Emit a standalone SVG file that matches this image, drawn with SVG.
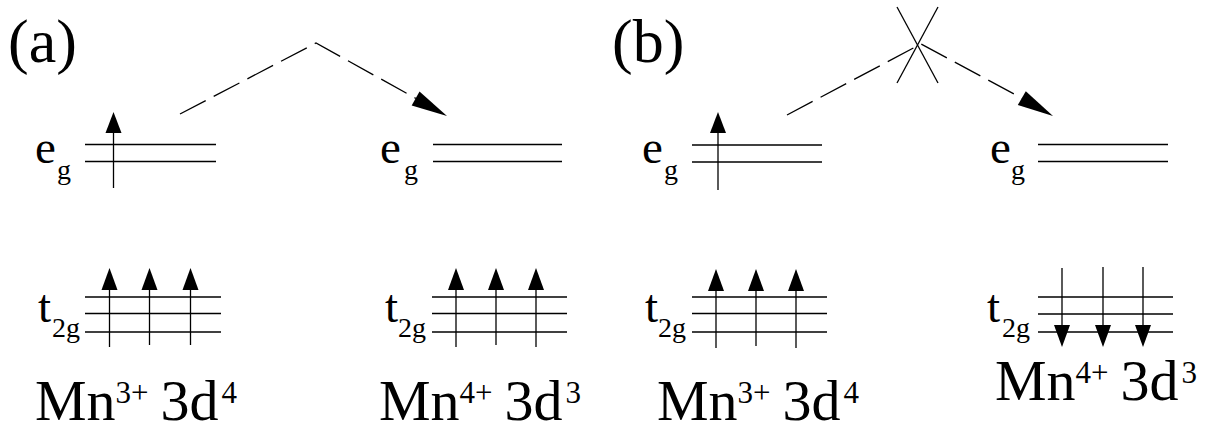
<svg xmlns="http://www.w3.org/2000/svg" width="1209" height="427" viewBox="0 0 1209 427">
<style>
text{font-family:'Liberation Serif','Times New Roman',serif;fill:#000}
.big{font-size:62px}
.lab{font-size:47px}
.sub{font-size:28px}
.mn{font-size:58px}
.sup{font-size:31px}
.lv{stroke:#000;stroke-width:1.3;fill:none}
.dash{stroke:#000;stroke-width:1.3;fill:none;stroke-dasharray:29 9}
.head{fill:#000;stroke:none}
</style>
<rect width="1209" height="427" fill="#fff"/>
<g id="label-a"><text class="big" x="8" y="62">(a)</text></g>
<g id="label-b"><text class="big" x="612" y="62">(b)</text></g>

<g id="a-mn3-eg">
<text class="lab" x="35" y="163">e</text><text class="sub" x="57" y="179">g</text>
<line class="lv" x1="85" y1="144.5" x2="216" y2="144.5"/>
<line class="lv" x1="85" y1="161.5" x2="216" y2="161.5"/>
<line class="lv" x1="113.5" y1="188" x2="113.5" y2="130"/>
<polygon class="head" points="113.5,112 105.5,133 121.5,133"/>
</g>
<g id="a-mn3-t2g">
<text class="lab" x="38" y="322">t</text><text class="sub" x="52" y="337">2g</text>
<line class="lv" x1="85" y1="297" x2="221" y2="297"/>
<line class="lv" x1="85" y1="313.5" x2="221" y2="313.5"/>
<line class="lv" x1="85" y1="332" x2="221" y2="332"/>
<line class="lv" x1="109.5" y1="347" x2="109.5" y2="288"/>
<line class="lv" x1="149.5" y1="345" x2="149.5" y2="288"/>
<line class="lv" x1="190.5" y1="345" x2="190.5" y2="288"/>
<polygon class="head" points="109.5,268 101.5,290 117.5,290"/>
<polygon class="head" points="149.5,268 141.5,290 157.5,290"/>
<polygon class="head" points="190.5,268 182.5,290 198.5,290"/>
</g>
<g id="a-mn3-name">
<text class="mn" x="35" y="420">Mn<tspan class="sup" dy="-17">3+</tspan><tspan dx="12" dy="17">3d</tspan><tspan class="sup" dx="3" dy="-17">4</tspan></text>
</g>

<g id="a-mn4-eg">
<text class="lab" x="380" y="163">e</text><text class="sub" x="404" y="179">g</text>
<line class="lv" x1="433" y1="144.5" x2="562" y2="144.5"/>
<line class="lv" x1="433" y1="161.5" x2="562" y2="161.5"/>
</g>
<g id="a-mn4-t2g">
<text class="lab" x="385" y="322">t</text><text class="sub" x="398" y="337">2g</text>
<line class="lv" x1="432" y1="297" x2="567" y2="297"/>
<line class="lv" x1="432" y1="313.5" x2="567" y2="313.5"/>
<line class="lv" x1="432" y1="332" x2="567" y2="332"/>
<line class="lv" x1="456" y1="347" x2="456" y2="288"/>
<line class="lv" x1="496" y1="345" x2="496" y2="288"/>
<line class="lv" x1="536" y1="347" x2="536" y2="288"/>
<polygon class="head" points="456,268 448,290 464,290"/>
<polygon class="head" points="496,268 488,290 504,290"/>
<polygon class="head" points="536,268 528,290 544,290"/>
</g>
<g id="a-mn4-name">
<text class="mn" x="379" y="420">Mn<tspan class="sup" dy="-17">4+</tspan><tspan dx="12" dy="17">3d</tspan><tspan class="sup" dx="3" dy="-17">3</tspan></text>
</g>

<g id="b-mn3-eg">
<text class="lab" x="642" y="163">e</text><text class="sub" x="664" y="179">g</text>
<line class="lv" x1="692" y1="145" x2="822" y2="145"/>
<line class="lv" x1="692" y1="162" x2="822" y2="162"/>
<line class="lv" x1="718" y1="190" x2="718" y2="130"/>
<polygon class="head" points="718,112 710,133 726,133"/>
</g>
<g id="b-mn3-t2g">
<text class="lab" x="645" y="322">t</text><text class="sub" x="658" y="337">2g</text>
<line class="lv" x1="692" y1="297" x2="827" y2="297"/>
<line class="lv" x1="692" y1="313.5" x2="827" y2="313.5"/>
<line class="lv" x1="692" y1="332" x2="827" y2="332"/>
<line class="lv" x1="716" y1="348" x2="716" y2="288"/>
<line class="lv" x1="756" y1="346" x2="756" y2="288"/>
<line class="lv" x1="796" y1="348" x2="796" y2="288"/>
<polygon class="head" points="716,269 708,291 724,291"/>
<polygon class="head" points="756,269 748,291 764,291"/>
<polygon class="head" points="796,269 788,291 804,291"/>
</g>
<g id="b-mn3-name">
<text class="mn" x="657" y="420">Mn<tspan class="sup" dy="-17">3+</tspan><tspan dx="12" dy="17">3d</tspan><tspan class="sup" dx="3" dy="-17">4</tspan></text>
</g>

<g id="b-mn4-eg">
<text class="lab" x="990" y="163">e</text><text class="sub" x="1011" y="179">g</text>
<line class="lv" x1="1038" y1="144.5" x2="1168" y2="144.5"/>
<line class="lv" x1="1038" y1="161.5" x2="1168" y2="161.5"/>
</g>
<g id="b-mn4-t2g">
<text class="lab" x="987" y="322">t</text><text class="sub" x="1002" y="337">2g</text>
<line class="lv" x1="1038" y1="297" x2="1173" y2="297"/>
<line class="lv" x1="1038" y1="314" x2="1173" y2="314"/>
<line class="lv" x1="1038" y1="332" x2="1173" y2="332"/>
<line class="lv" x1="1062" y1="268" x2="1062" y2="328"/>
<line class="lv" x1="1103" y1="267" x2="1103" y2="328"/>
<line class="lv" x1="1143" y1="267" x2="1143" y2="328"/>
<polygon class="head" points="1062,347 1054,325 1070,325"/>
<polygon class="head" points="1103,347 1095,325 1111,325"/>
<polygon class="head" points="1143,347 1135,325 1151,325"/>
</g>
<g id="b-mn4-name">
<text class="mn" x="995" y="400">Mn<tspan class="sup" dy="-17">4+</tspan><tspan dx="12" dy="17">3d</tspan><tspan class="sup" dx="3" dy="-17">3</tspan></text>
</g>

<g id="connectors">
<polyline class="dash" points="180,114 316,43 416,98.5"/>
<polygon class="head" points="447,116 411.7,105.5 419.5,91.5"/>
<polyline class="dash" points="787,115 921,44 1022,98.2"/>
<polygon class="head" points="1053,116 1017.8,105.1 1025.8,91.3"/>
<line class="lv" x1="897" y1="7" x2="938" y2="83"/>
<line class="lv" x1="938" y1="7" x2="897" y2="83"/>
</g>
</svg>
